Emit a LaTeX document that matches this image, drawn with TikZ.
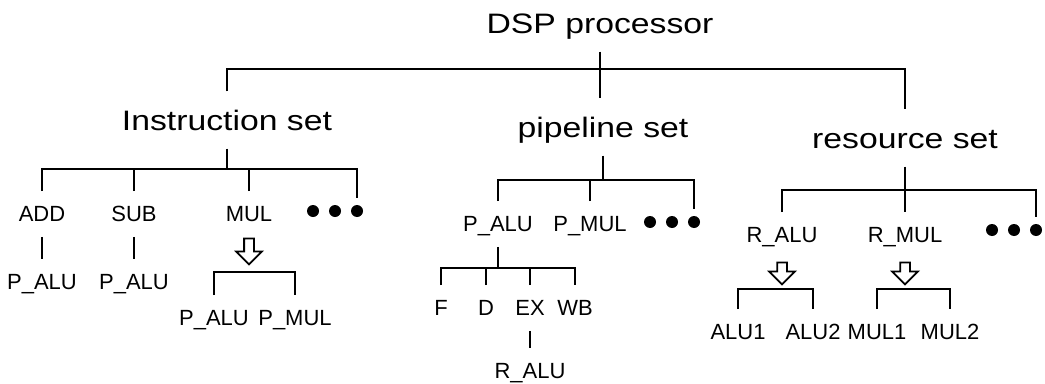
\documentclass[tikz,border=0pt]{standalone}
\usepackage{fontspec}
\setmainfont{Liberation Sans}
\newfontfamily\headfont[FakeStretch=1.2]{Liberation Sans}
\usetikzlibrary{shapes.arrows}
\tikzset{
  % one line weight for the whole tree
  every picture/.append style = {line width=1pt},
  head/.style   = {font=\headfont\fontsize{16}{19}\selectfont, text height=11.5pt,
                   text depth=0pt, inner xsep=2pt, inner ysep=10pt},
  item/.style   = {font=\fontsize{12.5}{15}\selectfont, text height=9pt,
                   text depth=0pt, inner xsep=1pt, inner ysep=8pt},
  more/.style   = {circle, fill=black, inner sep=0pt, minimum size=2.4mm, outer sep=1.4mm},
  expand/.style = {single arrow, draw, shape border rotate=270, inner sep=0.8mm,
                   minimum height=4.4mm, single arrow head extend=1.6mm},
}

\begin{document}
\begin{tikzpicture}[x=0.2mm, y=-0.2mm]
  \useasboundingbox (0,0) rectangle (1045,383);
  % top level
  \node[head] (dsp) at (600,23)  {DSP processor};
  \node[head] (ins) at (227,120) {Instruction set};
  \node[head] (pip) at (603,127) {pipeline set};
  \node[head] (res) at (905,138) {resource set};
  \coordinate (dspbus) at (600,69);
  \draw (ins.north) |- (dspbus) -| (res.north);
  \draw (dsp.south) -- (dsp.south |- pip.north);
  % instruction set
  \coordinate (insbus) at (227,169);
  \node[item] (add) at (42,214)  {ADD};
  \node[item] (sub) at (134,214) {SUB};
  \node[item] (mul) at (249,214) {MUL};
  \foreach \x [count=\i] in {313,335,357}
    \node[more] (insdot\i) at (\x,211) {};
  \draw (ins.south) -- (insbus);
  \draw (add.north) |- (insbus) -| (insdot3.north);
  \draw (sub.north) -- (sub.north |- insbus);
  \draw (mul.north) -- (mul.north |- insbus);
  \node[item] (addalu) at (42,282)  {P\_ALU};
  \node[item] (subalu) at (134,282) {P\_ALU};
  \draw (add) -- (addalu);
  \draw (sub) -- (subalu);
  \node[expand, minimum height=5.2mm] (mularr) at (249,249) {};
  \coordinate (mulbr) at (254,272);
  \node[item] (mulalu) at (214,318) {P\_ALU};
  \node[item] (mulmul) at (295,318) {P\_MUL};
  \draw (mulalu.north) |- (mulbr) -| (mulmul.north);
  % pipeline set
  \coordinate (pipbus) at (603,180);
  \node[item] (palu) at (498,224) {P\_ALU};
  \node[item] (pmul) at (590,224) {P\_MUL};
  \foreach \x [count=\i] in {650,672,694}
    \node[more] (pipdot\i) at (\x,222) {};
  \draw (pip.south) -- (pipbus);
  \draw (palu.north) |- (pipbus) -| (pipdot3.north);
  \draw (pmul.north) -- (pmul.north |- pipbus);
  % stages
  \coordinate (stbus) at (498,268);
  \node[item] (stf)  at (441,308) {F};
  \node[item] (std)  at (486,308) {D};
  \node[item] (stex) at (530,308) {EX};
  \node[item] (stwb) at (575,308) {WB};
  \draw (palu.south) -- (stbus);
  \draw (stf.north) |- (stbus) -| (stwb.north);
  \draw (std.north) -- (std.north |- stbus);
  \draw (stex.north) -- (stex.north |- stbus);
  \node[item] (exalu) at (530,371) {R\_ALU};
  \draw (stex) -- (exalu);
  % resource set
  \coordinate (resbus) at (905,190);
  \node[item] (ralu) at (782,235) {R\_ALU};
  \node[item] (rmul) at (905,235) {R\_MUL};
  \foreach \x [count=\i] in {992,1014,1036}
    \node[more] (resdot\i) at (\x,230) {};
  \draw (res.south) -- (rmul.north);
  \draw (ralu.north) |- (resbus) -| (resdot3.north);
  \node[expand] (ralarr) at (782,271) {};
  \node[expand] (rmularr) at (905,271) {};
  \coordinate (ralbr) at (776,289);
  \coordinate (rmulbr) at (911,289);
  \node[item] (alu1) at (738,332) {ALU1};
  \node[item] (alu2) at (813,332) {ALU2};
  \node[item] (mul1) at (877,332) {MUL1};
  \node[item] (mul2) at (950,332) {MUL2};
  \draw (alu1.north) |- (ralbr) -| (alu2.north);
  \draw (mul1.north) |- (rmulbr) -| (mul2.north);
\end{tikzpicture}
\end{document}
